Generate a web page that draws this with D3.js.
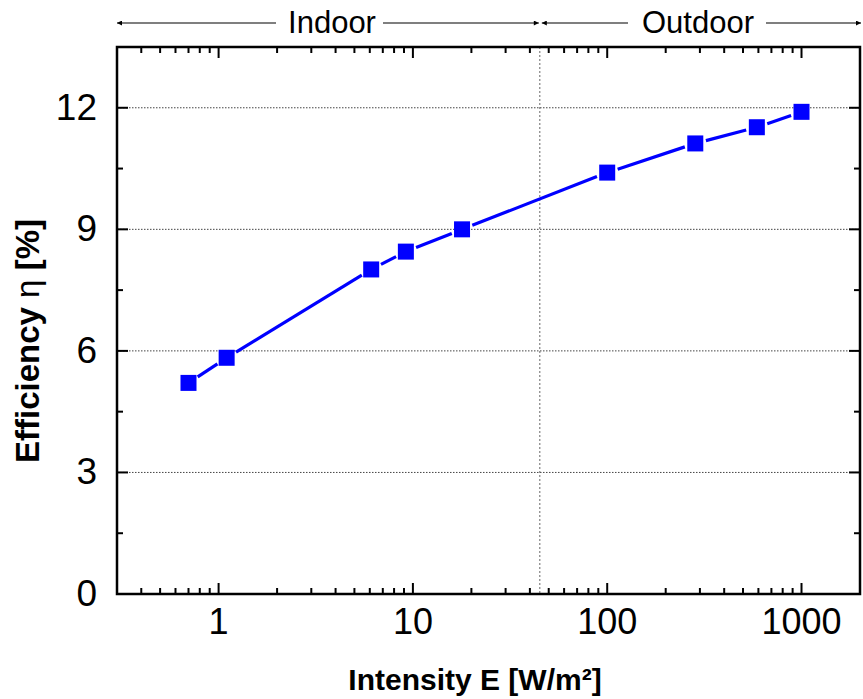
<!DOCTYPE html>
<html>
<head>
<meta charset="utf-8">
<script src="https://cdn.jsdelivr.net/npm/d3@7"></script>
<style>
  body { margin: 0; background: #fff; }
  text { font-family: "Liberation Sans", Arial, sans-serif; }
</style>
</head>
<body>
<svg id="chart" width="863" height="699"></svg>
<script>
// data
const intensity = [0.7, 1.1, 6.1, 9.2, 17.9, 100, 284, 589, 1000];
const efficiency = [5.21, 5.83, 8.01, 8.45, 9.0, 10.4, 11.12, 11.52, 11.9];
const xTicks = [1, 10, 100, 1000];
const yTicks = [0, 3, 6, 9, 12];
const boundary = 45;

const svg = d3.select("#chart");
const pLeft = 117, pRight = 860, pTop = 47, pBottom = 594;

const x = d3.scaleLog().domain([0.3, 2000]).range([pLeft, pRight]);
const y = d3.scaleLinear().domain([0, 13.5]).range([pBottom, pTop]);

// minor ticks
const xMinor = [];
[0.1, 1, 10, 100, 1000].forEach(d => {
	for (let k = 2; k <= 9; k++) {
		const v = d * k;
		if (v > 0.3 && v < 2000) xMinor.push(v);
	}
});
const yMinor = d3.range(1.5, 13.5, 3);

// grid
const grid = svg.append("g");
grid.selectAll("line.h")
	.data(yTicks.filter(d => d > 0))
	.enter()
	.append("line")
	.attr("x1", pLeft).attr("x2", pRight)
	.attr("y1", d => y(d)).attr("y2", d => y(d))
	.attr("stroke", "#444").attr("stroke-width", 1)
	.attr("stroke-dasharray", "1.5,1.5");
grid.append("line")
	.attr("x1", x(boundary)).attr("x2", x(boundary))
	.attr("y1", pTop).attr("y2", pBottom)
	.attr("stroke", "#666").attr("stroke-width", 1)
	.attr("stroke-dasharray", "2,2");

// ticks (inward, mirrored)
const ticks = svg.append("g").attr("stroke", "#000").attr("stroke-width", 2);
function xt(data, len) {
	data.forEach(v => {
		ticks.append("line").attr("x1", x(v)).attr("x2", x(v)).attr("y1", pBottom).attr("y2", pBottom - len);
		ticks.append("line").attr("x1", x(v)).attr("x2", x(v)).attr("y1", pTop).attr("y2", pTop + len);
	});
}
function yt(data, len) {
	data.forEach(v => {
		ticks.append("line").attr("x1", pLeft).attr("x2", pLeft + len).attr("y1", y(v)).attr("y2", y(v));
		ticks.append("line").attr("x1", pRight).attr("x2", pRight - len).attr("y1", y(v)).attr("y2", y(v));
	});
}
xt(xTicks, 11);
xt(xMinor, 6);
yt(yTicks, 11);
yt(yMinor, 6);

// frame
svg.append("rect")
	.attr("x", pLeft).attr("y", pTop)
	.attr("width", pRight - pLeft).attr("height", pBottom - pTop)
	.attr("fill", "none").attr("stroke", "#000").attr("stroke-width", 2.5);

// tick labels
svg.append("g").selectAll("text")
	.data(xTicks)
	.enter()
	.append("text")
	.attr("x", d => x(d)).attr("y", pBottom + 40)
	.attr("text-anchor", "middle")
	.attr("font-size", 36)
	.text(d => d);
svg.append("g").selectAll("text")
	.data(yTicks)
	.enter()
	.append("text")
	.attr("x", pLeft - 20).attr("y", d => y(d) + 12)
	.attr("text-anchor", "end")
	.attr("font-size", 37)
	.text(d => d);

// axis titles
svg.append("text")
	.attr("x", 475).attr("y", 690)
	.attr("text-anchor", "middle")
	.attr("font-size", 30).attr("font-weight", "bold")
	.text("Intensity E [W/m²]");
const yTitle = svg.append("text")
	.attr("transform", "translate(39,341) rotate(-90)")
	.attr("text-anchor", "middle")
	.attr("font-size", 33).attr("font-weight", "bold");
yTitle.append("tspan").text("Efficiency ");
yTitle.append("tspan").attr("font-weight", "normal").text("η");
yTitle.append("tspan").text(" [%]");

// series: line segments with gaps around markers
const pts = intensity.map((d, i) => [x(d), y(efficiency[i])]);
const gap = 11;
const series = svg.append("g");
for (let i = 0; i < pts.length - 1; i++) {
	const [x1, y1] = pts[i], [x2, y2] = pts[i + 1];
	const len = Math.hypot(x2 - x1, y2 - y1);
	const ux = (x2 - x1) / len, uy = (y2 - y1) / len;
	series.append("line")
		.attr("x1", x1 + ux * gap).attr("y1", y1 + uy * gap)
		.attr("x2", x2 - ux * gap).attr("y2", y2 - uy * gap)
		.attr("stroke", "#0000ff").attr("stroke-width", 3.2);
}
series.selectAll("rect")
	.data(pts)
	.enter()
	.append("rect")
	.attr("x", d => d[0] - 8).attr("y", d => d[1] - 8)
	.attr("width", 16).attr("height", 16)
	.attr("fill", "#0000ff");

// indoor / outdoor annotation
const defs = svg.append("defs");
defs.append("marker")
	.attr("id", "arr")
	.attr("viewBox", "0 0 10 10")
	.attr("refX", 10).attr("refY", 5)
	.attr("markerWidth", 10).attr("markerHeight", 5)
	.attr("markerUnits", "userSpaceOnUse")
	.attr("orient", "auto-start-reverse")
	.append("path")
	.attr("d", "M0,0L10,5L0,10Z")
	.attr("fill", "#000");

const ay = 23;
const ann = svg.append("g").attr("stroke", "#000").attr("stroke-width", 1.2);
const xb = x(boundary);
ann.append("line").attr("x1", pLeft).attr("x2", 276).attr("y1", ay).attr("y2", ay).attr("marker-start", "url(#arr)");
ann.append("line").attr("x1", 383).attr("x2", xb - 1).attr("y1", ay).attr("y2", ay).attr("marker-end", "url(#arr)");
ann.append("line").attr("x1", xb + 2).attr("x2", 628).attr("y1", ay).attr("y2", ay).attr("marker-start", "url(#arr)");
ann.append("line").attr("x1", 766).attr("x2", pRight + 1).attr("y1", ay).attr("y2", ay).attr("marker-end", "url(#arr)");
svg.append("text").attr("x", 332).attr("y", 33).attr("text-anchor", "middle").attr("font-size", 31).text("Indoor");
svg.append("text").attr("x", 698).attr("y", 33).attr("text-anchor", "middle").attr("font-size", 31).text("Outdoor");
</script>
</body>
</html>
